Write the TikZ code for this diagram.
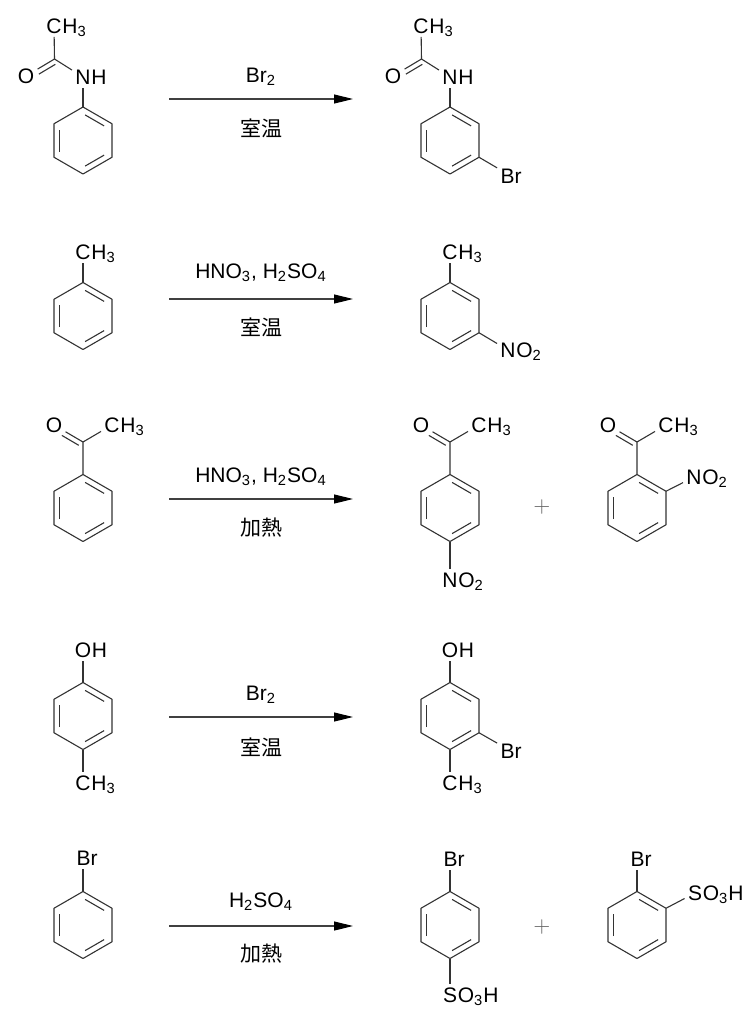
\documentclass[tikz,border=0pt]{standalone}
\usepackage{fontspec}
\setmainfont{Liberation Sans}
\newfontfamily\cjk{Noto Sans CJK JP}
\usetikzlibrary{calc,arrows.meta}

\tikzset{
  bond/.style={line width=0.55pt, draw=black!80, line join=round},
  atom/.style={inner sep=1.5pt, font=\fontsize{10.5}{12}\selectfont},
  sub/.style={inner sep=0pt, anchor=base west, font=\fontsize{10.5}{12}\selectfont},
  rxn/.style={line width=0.55pt, draw=black!75, -{Triangle[length=9.5pt,width=4.5pt,color=black]}},
  cond/.style={inner sep=0pt, font=\fontsize{10.5}{12}\selectfont},
  plus/.style={inner sep=0pt, text=black!60, font=\fontsize{11}{11}\selectfont}
}

\newcommand{\benzene}[2]{%
  \coordinate (#1) at (#2);
  \foreach \a/\n in {-90/1,-30/2,30/3,90/4,150/5,210/6}
    \coordinate (#1-\n) at ($(#1)+(\a:33.5)$);
  \draw[bond] (#1-1) -- (#1-2) -- (#1-3) -- (#1-4) -- (#1-5) -- (#1-6) -- cycle;
  \foreach \p/\q in {1/2,3/4,5/6}
    \draw[bond, shorten <=1.2pt, shorten >=1.2pt] ($(#1)!0.8!(#1-\p)$) -- ($(#1)!0.8!(#1-\q)$);
}
\newcommand{\grp}[4]{%
  \node[atom] (#1) at (#2) {#3};
  \node[sub] at ([xshift=-1.5pt]#1.base east) {#4};
}
\newcommand{\carbonyl}[2]{%
  \draw[bond] (#1) -- (#2);
  \draw[bond, shorten <=1pt, shorten >=6pt] ($(#1)!2.5pt!90:(#2)$) -- ($(#2)!2.5pt!-90:(#1)$);
}

\begin{document}
\begin{tikzpicture}[x=0.5pt, y=-0.5pt]
\useasboundingbox (0,0) rectangle (755,1024);

% row 1
\benzene{r1a}{83,140.5}
\grp{n1a}{83,77}{N}{H}
\coordinate (c1a) at (54.5,59);
\node[atom] (o1a) at (26,76) {O};
\grp{m1a}{54,26}{C}{H\textsubscript{3}}
\draw[bond] (r1a-1) -- (n1a);
\draw[bond] (n1a) -- (c1a) -- (m1a);
\carbonyl{c1a}{o1a}

\coordinate (s1) at (169,99);
\coordinate (e1) at (353,99);
\draw[rxn] (s1) -- (e1);
\node[cond] (t1) at (261,77) {Br\textsubscript{2}};
\node[cond] (u1) at (261,128) {\cjk 室温};

\benzene{r1b}{450,140.5}
\grp{n1b}{450,77}{N}{H}
\coordinate (c1b) at (421.5,59);
\node[atom] (o1b) at (393,76) {O};
\grp{m1b}{421,26}{C}{H\textsubscript{3}}
\node[atom] (br1b) at (511,176) {Br};
\draw[bond] (r1b-1) -- (n1b);
\draw[bond] (n1b) -- (c1b) -- (m1b);
\carbonyl{c1b}{o1b}
\draw[bond] (r1b-3) -- (br1b);

% row 2
\benzene{r2a}{83,316}
\grp{m2a}{83,252}{C}{H\textsubscript{3}}
\draw[bond] (r2a-1) -- (m2a);

\coordinate (s2) at (169,299);
\coordinate (e2) at (353,299);
\draw[rxn] (s2) -- (e2);
\node[cond] (t2) at (261,273) {HNO\textsubscript{3}, H\textsubscript{2}SO\textsubscript{4}};
\node[cond] (u2) at (261,327) {\cjk 室温};

\benzene{r2b}{450,316}
\grp{m2b}{450,252}{C}{H\textsubscript{3}}
\grp{n2b}{508,350}{N}{O\textsubscript{2}}
\draw[bond] (r2b-1) -- (m2b);
\draw[bond] (r2b-3) -- (n2b);

% row 3
\benzene{r3a}{83,508}
\coordinate (c3a) at (83,442);
\node[atom] (o3a) at (54,425) {O};
\grp{m3a}{112,425}{C}{H\textsubscript{3}}
\draw[bond] (r3a-1) -- (c3a) -- (m3a);
\carbonyl{c3a}{o3a}

\coordinate (s3) at (169,499);
\coordinate (e3) at (353,499);
\draw[rxn] (s3) -- (e3);
\node[cond] (t3) at (261,477) {HNO\textsubscript{3}, H\textsubscript{2}SO\textsubscript{4}};
\node[cond] (u3) at (261,528) {\cjk 加熱};

\benzene{r3b}{450,508}
\coordinate (c3b) at (450,442);
\node[atom] (o3b) at (421,425) {O};
\grp{m3b}{479,425}{C}{H\textsubscript{3}}
\grp{n3b}{450,580}{N}{O\textsubscript{2}}
\draw[bond] (r3b-1) -- (c3b) -- (m3b);
\carbonyl{c3b}{o3b}
\draw[bond] (r3b-4) -- (n3b);

\node[plus] (p3) at (542,507) {$+$};

\benzene{r3c}{637,508}
\coordinate (c3c) at (637,442);
\node[atom] (o3c) at (608,425) {O};
\grp{m3c}{666,425}{C}{H\textsubscript{3}}
\grp{n3c}{694,477}{N}{O\textsubscript{2}}
\draw[bond] (r3c-1) -- (c3c) -- (m3c);
\carbonyl{c3c}{o3c}
\draw[bond] (r3c-2) -- (n3c);

% row 4
\benzene{r4a}{83,716}
\grp{o4a}{83,650}{O}{H}
\grp{m4a}{83,783}{C}{H\textsubscript{3}}
\draw[bond] (r4a-1) -- (o4a);
\draw[bond] (r4a-4) -- (m4a);

\coordinate (s4) at (169,717);
\coordinate (e4) at (353,717);
\draw[rxn] (s4) -- (e4);
\node[cond] (t4) at (261,695) {Br\textsubscript{2}};
\node[cond] (u4) at (261,747) {\cjk 室温};

\benzene{r4b}{450,716}
\grp{o4b}{450,650}{O}{H}
\grp{m4b}{450,783}{C}{H\textsubscript{3}}
\node[atom] (br4b) at (511,751) {Br};
\draw[bond] (r4b-1) -- (o4b);
\draw[bond] (r4b-4) -- (m4b);
\draw[bond] (r4b-3) -- (br4b);

% row 5
\benzene{r5a}{83,925}
\node[atom] (br5a) at (87,858) {Br};
\draw[bond] (r5a-1) -- (r5a-1 |- br5a.south);

\coordinate (s5) at (169,926);
\coordinate (e5) at (353,926);
\draw[rxn] (s5) -- (e5);
\node[cond] (t5) at (261,902) {H\textsubscript{2}SO\textsubscript{4}};
\node[cond] (u5) at (261,954) {\cjk 加熱};

\benzene{r5b}{450,925}
\node[atom] (br5b) at (454,859) {Br};
\grp{s5b}{450,995}{S}{O\textsubscript{3}H}
\draw[bond] (r5b-1) -- (r5b-1 |- br5b.south);
\draw[bond] (r5b-4) -- (s5b);

\node[plus] (p5) at (542,927) {$+$};

\benzene{r5c}{637,925}
\node[atom] (br5c) at (641,859) {Br};
\grp{s5c}{695,893}{S}{O\textsubscript{3}H}
\draw[bond] (r5c-1) -- (r5c-1 |- br5c.south);
\draw[bond] (r5c-2) -- (s5c);
\end{tikzpicture}
\end{document}
